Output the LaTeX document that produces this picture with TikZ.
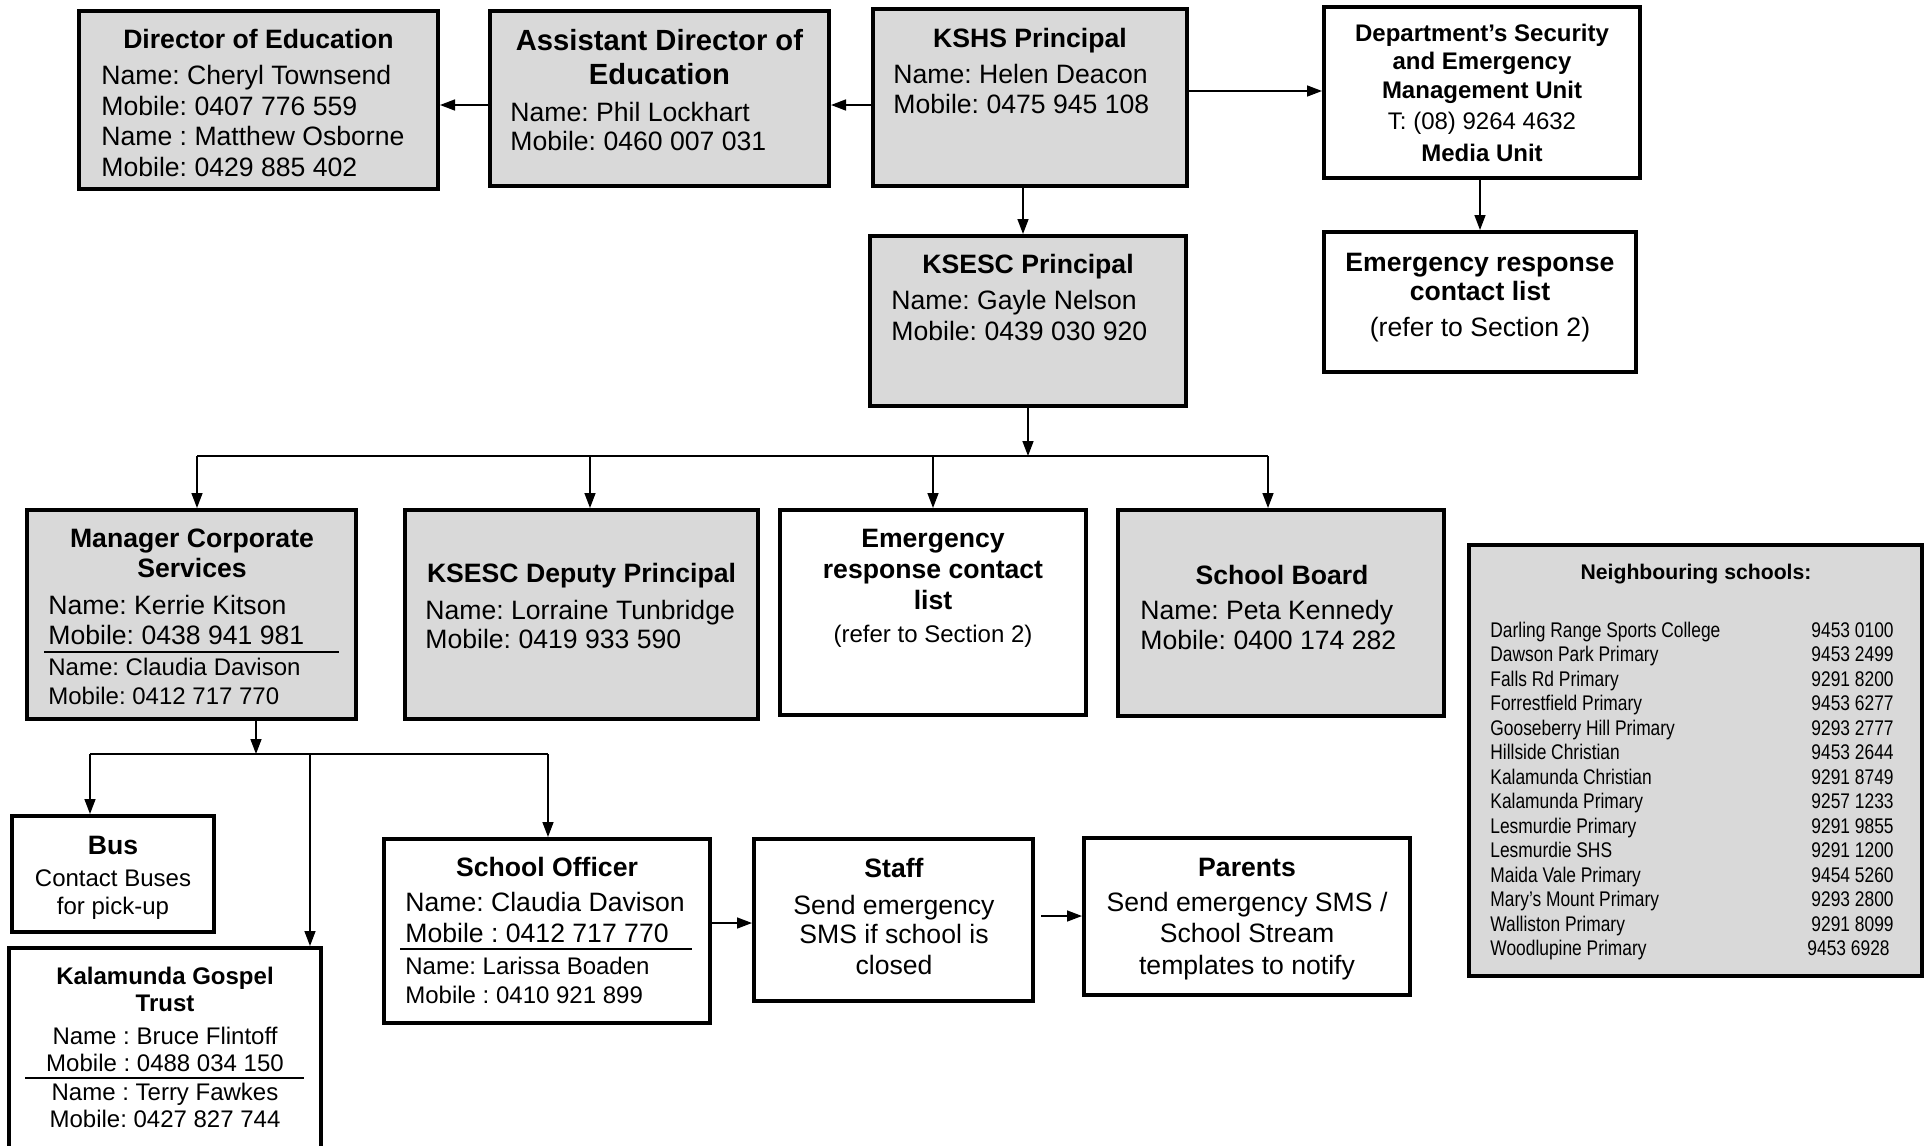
\documentclass[tikz,border=0pt]{standalone}
\usepackage{fontspec}
\setmainfont{Liberation Sans}
\newfontfamily\narrowfont{Liberation Sans}[FakeStretch=0.82]
\usetikzlibrary{arrows.meta,fit}
\frenchspacing
\definecolor{boxgray}{HTML}{D9D9D9}
\tikzset{
  bx/.style={draw=black, line width=2.2pt, inner sep=-1.1pt},
  gbx/.style={bx, fill=boxgray},
  arr/.style={line width=0.75pt, -{Triangle[length=7.5pt,width=5.5pt]}},
  ln/.style={line width=0.75pt},
  divline/.style={line width=1.2pt},
  tc/.style={inner sep=0pt, anchor=base},
  tl/.style={inner sep=0pt, anchor=base west},
  tr/.style={inner sep=0pt, anchor=base east},
  fb/.style={font=\fontsize{13.3}{15}\selectfont\bfseries},
  fn/.style={font=\fontsize{13.3}{15}\selectfont},
  fs/.style={font=\fontsize{12}{14}\selectfont},
  fsb/.style={font=\fontsize{12}{14}\selectfont\bfseries},
  fbig/.style={font=\fontsize{14.6}{17}\selectfont\bfseries},
  fnb/.style={font=\fontsize{10.6}{12}\selectfont\bfseries},
  fnl/.style={font=\fontsize{10.6}{12}\narrowfont},
}
\begin{document}
\begin{tikzpicture}[x=0.5pt,y=-0.5pt]
\frenchspacing
\useasboundingbox (0,0) rectangle (1928,1146);
\clip (0,0) rectangle (1928,1146);

% boxes
\node[gbx, fit={(77,9)(440,191)}] (dir) {};
\node[gbx, fit={(488,9)(831,188)}] (asst) {};
\node[gbx, fit={(871,7)(1189,188)}] (kshs) {};
\node[bx, fit={(1322,5)(1642,180)}] (dept) {};
\node[bx, fit={(1322,230)(1638,374)}] (emr) {};
\node[gbx, fit={(868,234)(1188,408)}] (ksesc) {};
\node[gbx, fit={(25,508)(358,721)}] (mgr) {};
\node[gbx, fit={(403,508)(760,721)}] (dep) {};
\node[bx, fit={(778,508)(1088,717)}] (emm) {};
\node[gbx, fit={(1116,508)(1446,718)}] (board) {};
\node[gbx, fit={(1467,543)(1924,978)}] (nb) {};
\node[bx, fit={(10,814)(216,934)}] (bus) {};
\node[bx, fit={(7,946)(323,1180)}] (kal) {};
\node[bx, fit={(382,837)(712,1025)}] (off) {};
\node[bx, fit={(752,837)(1035,1003)}] (staff) {};
\node[bx, fit={(1082,836)(1412,997)}] (par) {};

% Director
\node[tc,fb] (d1) at (258.5,48) {Director of Education};
\node[tl,fn] (d2) at (101,84) {Name: Cheryl Townsend};
\node[tl,fn] (d3) at (101,115) {Mobile: 0407 776 559};
\node[tl,fn] (d4) at (101,145) {Name : Matthew Osborne};
\node[tl,fn] (d5) at (101,176) {Mobile: 0429 885 402};
% Assistant
\node[tc,fbig] (a1) at (659.5,50) {Assistant Director of};
\node[tc,fbig] (a2) at (659.5,84) {Education};
\node[tl,fn] (a3) at (510,121) {Name: Phil Lockhart};
\node[tl,fn] (a4) at (510,150) {Mobile: 0460 007 031};
% KSHS
\node[tc,fb] (k1) at (1030,47) {KSHS Principal};
\node[tl,fn] (k2) at (893,83) {Name: Helen Deacon};
\node[tl,fn] (k3) at (893,113) {Mobile: 0475 945 108};
% Dept
\node[tc,fsb] (s1) at (1482,41) {Department’s Security};
\node[tc,fsb] (s2) at (1482,69) {and Emergency};
\node[tc,fsb] (s3) at (1482,98) {Management Unit};
\node[tc,fs] (s4) at (1482,129) {T: (08) 9264 4632};
\node[tc,fsb] (s5) at (1482,161) {Media Unit};
% Emergency right
\node[tc,fb] (e1) at (1480,271) {Emergency response};
\node[tc,fb] (e2) at (1480,300) {contact list};
\node[tc,fn] (e3) at (1480,336) {(refer to Section 2)};
% KSESC
\node[tc,fb] (p1) at (1028,273) {KSESC Principal};
\node[tl,fn] (p2) at (891,309) {Name: Gayle Nelson};
\node[tl,fn] (p3) at (891,340) {Mobile: 0439 030 920};
% Manager
\node[tc,fb] (m1) at (192,547) {Manager Corporate};
\node[tc,fb] (m2) at (192,577) {Services};
\node[tl,fn] (m3) at (48,614) {Name: Kerrie Kitson};
\node[tl,fn] (m4) at (48,644) {Mobile: 0438 941 981};
\node[tl,fs] (m5) at (48,675) {Name: Claudia Davison};
\node[tl,fs] (m6) at (48,704) {Mobile: 0412 717 770};
\draw[divline] (44,652) -- (339,652);
% Deputy
\node[tc,fb] (q1) at (581.5,582) {KSESC Deputy Principal};
\node[tl,fn] (q2) at (425,619) {Name: Lorraine Tunbridge};
\node[tl,fn] (q3) at (425,648) {Mobile: 0419 933 590};
% Emergency middle
\node[tc,fb] (r1) at (933,547) {Emergency};
\node[tc,fb] (r2) at (933,578) {response contact};
\node[tc,fb] (r3) at (933,609) {list};
\node[tc,fs] (r4) at (933,642) {(refer to Section 2)};
% Board
\node[tc,fb] (b1) at (1282,584) {School Board};
\node[tl,fn] (b2) at (1140,619) {Name: Peta Kennedy};
\node[tl,fn] (b3) at (1140,649) {Mobile: 0400 174 282};
% Neighbouring schools
\node[tc,fnb] (n0) at (1696,579) {Neighbouring schools:};
\foreach \nm/\ph/\rx [count=\i from 0] in {
  Darling Range Sports College/9453 0100/1894,
  Dawson Park Primary/9453 2499/1894,
  Falls Rd Primary/9291 8200/1894,
  Forrestfield Primary/9453 6277/1894,
  Gooseberry Hill Primary/9293 2777/1894,
  Hillside Christian/9453 2644/1894,
  Kalamunda Christian/9291 8749/1894,
  Kalamunda Primary/9257 1233/1894,
  Lesmurdie Primary/9291 9855/1894,
  Lesmurdie SHS/9291 1200/1894,
  Maida Vale Primary/9454 5260/1894,
  Mary’s Mount Primary/9293 2800/1894,
  Walliston Primary/9291 8099/1894,
  Woodlupine Primary/9453 6928/1890}{
  \node[tl,fnl] (nn\i) at (1490,637+24.5*\i) {\nm};
  \node[tr,fnl] (np\i) at (\rx,637+24.5*\i) {\ph};
}
% Bus
\node[tc,fb] (u1) at (113,854) {Bus};
\node[tc,fs] (u2) at (113,886) {Contact Buses};
\node[tc,fs] (u3) at (113,914) {for pick-up};
% Kalamunda
\node[tc,fsb] (g1) at (165,984) {Kalamunda Gospel};
\node[tc,fsb] (g2) at (165,1011) {Trust};
\node[tc,fs] (g3) at (165,1044) {Name : Bruce Flintoff};
\node[tc,fs] (g4) at (165,1071) {Mobile : 0488 034 150};
\node[tc,fs] (g5) at (165,1100) {Name : Terry Fawkes};
\node[tc,fs] (g6) at (165,1127) {Mobile: 0427 827 744};
\draw[divline] (25,1078) -- (304,1078);
% School Officer
\node[tc,fb] (o1) at (547,876) {School Officer};
\node[tl,fn] (o2) at (405,911) {Name: Claudia Davison};
\node[tl,fn] (o3) at (405,942) {Mobile : 0412 717 770};
\node[tl,fs] (o4) at (405,974) {Name: Larissa Boaden};
\node[tl,fs] (o5) at (405,1003) {Mobile : 0410 921 899};
\draw[divline] (400,949) -- (692,949);
% Staff
\node[tc,fb] (t1) at (894,877) {Staff};
\node[tc,fn] (t2) at (894,914) {Send emergency};
\node[tc,fn] (t3) at (894,943) {SMS if school is};
\node[tc,fn] (t4) at (894,974) {closed};
% Parents
\node[tc,fb] (h1) at (1247,876) {Parents};
\node[tc,fn] (h2) at (1247,911) {Send emergency SMS /};
\node[tc,fn] (h3) at (1247,942) {School Stream};
\node[tc,fn] (h4) at (1247,974) {templates to notify};

% connector coordinates
\coordinate (yTop) at (0,105);
\coordinate (yDept) at (0,91);
\coordinate (xEm) at (1480,0);
\coordinate (xK) at (1023,0);
\coordinate (hub) at (1028,456);
\coordinate (h1L) at (197,456);
\coordinate (h1B) at (590,456);
\coordinate (h1C) at (933,456);
\coordinate (h1R) at (1268,456);
\coordinate (hub2) at (256,754);
\coordinate (h2L) at (90,754);
\coordinate (h2M) at (310,754);
\coordinate (h2R) at (548,754);
\coordinate (yOS) at (0,923);
\coordinate (ySP) at (0,916);

\draw[arr] (kshs.west |- yTop) -- (asst.east |- yTop);
\draw[arr] (asst.west |- yTop) -- (dir.east |- yTop);
\draw[arr] (kshs.east |- yDept) -- (dept.west |- yDept);
\draw[arr] (dept.south -| xEm) -- (emr.north -| xEm);
\draw[arr] (kshs.south -| xK) -- (ksesc.north -| xK);
\draw[arr] (ksesc.south -| hub) -- (hub);
\draw[ln] (h1L) -- (h1R);
\draw[arr] (h1L) -- (mgr.north -| h1L);
\draw[arr] (h1B) -- (dep.north -| h1B);
\draw[arr] (h1C) -- (emm.north -| h1C);
\draw[arr] (h1R) -- (board.north -| h1R);
\draw[arr] (mgr.south -| hub2) -- (hub2);
\draw[ln] (h2L) -- (h2R);
\draw[arr] (h2L) -- (bus.north -| h2L);
\draw[arr] (h2M) -- (kal.north -| h2M);
\draw[arr] (h2R) -- (off.north -| h2R);
\draw[arr] (off.east |- yOS) -- (staff.west |- yOS);
\draw[arr] ([xshift=3pt]staff.east |- ySP) -- (par.west |- ySP);
\end{tikzpicture}
\end{document}
